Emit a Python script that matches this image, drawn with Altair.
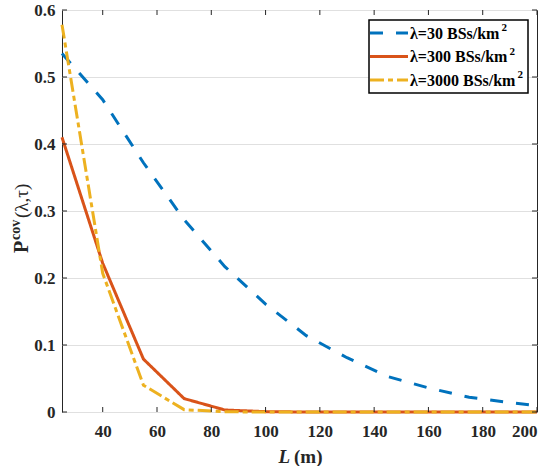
import altair as alt
import pandas as pd

# Coverage probability versus link distance L for three BS densities
L = [25, 40, 55, 70, 85, 100, 115, 130, 145, 160, 175, 190, 200]
p_30 = [0.535, 0.466, 0.372, 0.287, 0.217, 0.161, 0.114, 0.081, 0.053, 0.036, 0.022, 0.014, 0.0095]
p_300 = [0.41, 0.222, 0.079, 0.020, 0.003, 0.0005, 0, 0, 0, 0, 0, 0, 0]
p_3000 = [0.578, 0.207, 0.040, 0.0035, 0.0003, 0, 0, 0, 0, 0, 0, 0, 0]

series_names = ["λ=30 BSs/km²", "λ=300 BSs/km²", "λ=3000 BSs/km²"]
legend_text = ["λ=30 BSs/km", "λ=300 BSs/km", "λ=3000 BSs/km"]
series_colors = ["#0072BD", "#D95319", "#EDB120"]
series_dashes = [[13, 13], [1, 0], [14, 4, 5, 4]]

x_ticks = [40, 60, 80, 100, 120, 140, 160, 180, 200]
y_ticks = [0, 0.1, 0.2, 0.3, 0.4, 0.5, 0.6]

W, H = 475, 402
FONT = "Liberation Serif"
INK = "#262626"

rows = []
for name, vals in zip(series_names, [p_30, p_300, p_3000]):
    for l, p in zip(L, vals):
        rows.append({"L": l, "P": p, "series": name})
df = pd.DataFrame(rows)

x_scale = alt.Scale(domain=[25, 200], nice=False, zero=False)
y_scale = alt.Scale(domain=[0, 0.6], nice=False, zero=False)

lines = alt.Chart(df).mark_line(strokeWidth=3, clip=False).encode(
    x=alt.X(
        "L:Q",
        scale=x_scale,
        axis=alt.Axis(
            values=x_ticks, title=None, grid=False, ticks=False, tickSize=0,
            domain=False, labelFont=FONT, labelFontSize=17, labelFontWeight="bold",
            labelColor=INK, labelPadding=11,
        ),
    ),
    y=alt.Y(
        "P:Q",
        scale=y_scale,
        axis=alt.Axis(
            values=y_ticks, title=None, grid=True, gridColor="#e0e0e0", gridWidth=1,
            ticks=False, tickSize=0, domain=False, format="~g",
            labelFont=FONT, labelFontSize=17, labelFontWeight="bold",
            labelColor=INK, labelPadding=7,
        ),
    ),
    color=alt.Color("series:N", scale=alt.Scale(domain=series_names, range=series_colors), legend=None),
    strokeDash=alt.StrokeDash("series:N", scale=alt.Scale(domain=series_names, range=series_dashes), legend=None),
)

# inward tick marks on all four sides of the box
xt = pd.DataFrame({"L": x_ticks})
yt = pd.DataFrame({"P": y_ticks})
tick_len = 5
bottom_ticks = alt.Chart(xt).mark_rule(color=INK, strokeWidth=1).encode(
    x=alt.X("L:Q", scale=x_scale), y=alt.value(H), y2=alt.value(H - tick_len))
top_ticks = alt.Chart(xt).mark_rule(color=INK, strokeWidth=1).encode(
    x=alt.X("L:Q", scale=x_scale), y=alt.value(0), y2=alt.value(tick_len))
left_ticks = alt.Chart(yt).mark_rule(color=INK, strokeWidth=1).encode(
    y=alt.Y("P:Q", scale=y_scale), x=alt.value(0), x2=alt.value(tick_len))
right_ticks = alt.Chart(yt).mark_rule(color=INK, strokeWidth=1).encode(
    y=alt.Y("P:Q", scale=y_scale), x=alt.value(W), x2=alt.value(W - tick_len))


def label(text, x, y, size, weight="bold", style="normal", angle=0, align="left",
          baseline="alphabetic", color=INK):
    return alt.Chart(pd.DataFrame({"t": [text]})).mark_text(
        font=FONT, fontSize=size, fontWeight=weight, fontStyle=style,
        angle=angle, align=align, baseline=baseline, color=color,
    ).encode(x=alt.value(x), y=alt.value(y), text="t:N")


# x-axis title: italic L followed by the unit
x_title_l = label("L", 228, 453, 19, style="italic", align="right")
x_title_u = label("(m)", 232, 453, 19)

# y-axis title: P with superscript "cov" and the argument list, rotated
y_title_p = label("P", -34, 243, 20, angle=270)
y_title_sup = label("cov", -42, 230, 14, angle=270)
y_title_arg = label("(λ,τ)", -34, 208, 19, weight="normal", angle=270)

# boxed legend in the upper right corner
LEG_X0, LEG_X1, LEG_Y0, LEG_Y1 = 307, 466, 10, 83
legend_box = alt.Chart(pd.DataFrame({"t": [0]})).mark_rect(
    fill="white", stroke="black", strokeWidth=1.5,
).encode(x=alt.value(LEG_X0), x2=alt.value(LEG_X1), y=alt.value(LEG_Y0), y2=alt.value(LEG_Y1))

legend_layers = [legend_box]
row_y = [23, 46.5, 70]
sup_x = [439.5, 447.5, 455.5]
for text, col, dash, ry, sx in zip(legend_text, series_colors, series_dashes, row_y, sup_x):
    legend_layers.append(
        alt.Chart(pd.DataFrame({"t": [text]})).mark_rule(
            color=col, strokeWidth=3, strokeDash=dash,
        ).encode(x=alt.value(308), x2=alt.value(346), y=alt.value(ry))
    )
    legend_layers.append(label(text, 348, ry + 5.5, 16, color="black"))
    legend_layers.append(label("2", sx, ry - 2, 11, color="black"))

chart = alt.layer(
    lines, bottom_ticks, top_ticks, left_ticks, right_ticks,
    x_title_l, x_title_u, y_title_p, y_title_sup, y_title_arg,
    *legend_layers,
).properties(
    width=W,
    height=H,
    autosize=alt.AutoSizeParams(type="none"),
    padding={"left": 62, "top": 10, "right": 15, "bottom": 54},
    background="white",
).configure_view(
    stroke=INK, strokeWidth=1,
)

chart.save("out.html", embed_options={"renderer": "svg", "actions": False})
